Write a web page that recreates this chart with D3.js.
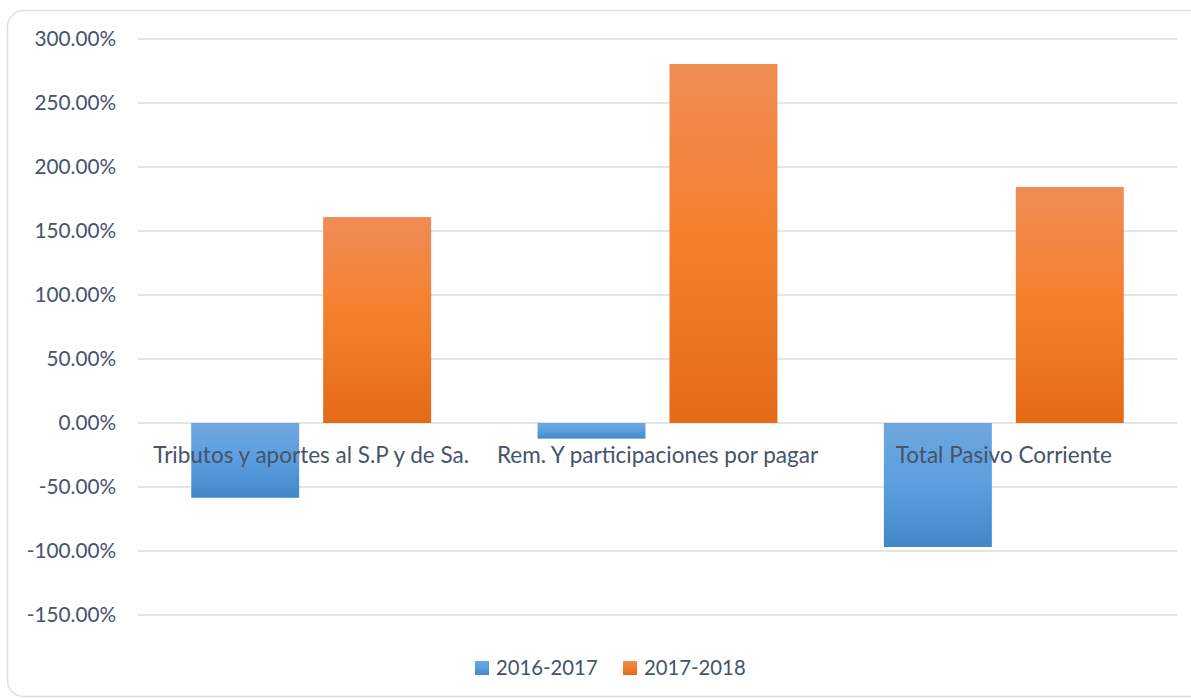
<!DOCTYPE html>
<html><head><meta charset="utf-8">
<script src="https://cdn.jsdelivr.net/npm/d3@7"></script>
<style>html,body{margin:0;padding:0;background:#fff;}svg{display:block;}</style>
</head><body>
<svg id="c" width="1191" height="699"></svg>
<script>
const categories = ["Tributos y aportes al S.P y de Sa.", "Rem. Y participaciones por pagar", "Total Pasivo Corriente"];
const seriesNames = ["2016-2017", "2017-2018"];
const values2016_2017 = [-0.584, -0.122, -0.969];
const values2017_2018 = [1.609, 2.805, 1.844];
const yTicks = [3, 2.5, 2, 1.5, 1, 0.5, 0, -0.5, -1, -1.5];

const W = 1191, H = 699;
const svg = d3.select("#c");
const font = "Lato, 'Open Sans', sans-serif";
const textColor = "#44546a";

const defs = svg.append("defs");
function grad(id, stops){
  const g = defs.append("linearGradient").attr("id", id).attr("x1",0).attr("y1",0).attr("x2",0).attr("y2",1);
  stops.forEach(s => g.append("stop").attr("offset", s[0]).attr("stop-color", s[1]));
}
grad("gBlue", [[0,"#6fa7dd"],[0.5,"#5b9ee0"],[1,"#4387c8"]]);
grad("gOrange", [[0,"#f08c56"],[0.5,"#f47f2a"],[1,"#e36a17"]]);

svg.append("rect").attr("x",7.5).attr("y",10.5).attr("width",1200).attr("height",686)
  .attr("rx",16).attr("fill","#fff").attr("stroke","#dcdfe5").attr("stroke-width",1.5);

const x0 = d3.scaleBand().domain(categories).range([138,1177]).paddingInner(0).paddingOuter(0);
const y = d3.scaleLinear().domain([-1.5,3]).range([615,39]);

// gridlines
svg.append("g").selectAll("line").data(yTicks).join("line")
  .attr("x1",138).attr("x2",1177).attr("y1",d=>y(d)).attr("y2",d=>y(d))
  .attr("stroke","#e2e5ea").attr("stroke-width",2);

// y labels
const fmt = d => (d*100).toFixed(2) + "%";
svg.append("g").selectAll("text").data(yTicks).join("text")
  .attr("x",116).attr("y",d=>y(d)).attr("dy","0.35em").attr("text-anchor","end")
  .attr("font-family",font).attr("font-size",20.7).attr("fill",textColor).text(fmt);

const bw = x0.bandwidth();
const barW = bw*108/346.5;
const gap = bw*24/346.5;
const x1 = d3.scaleOrdinal().domain(seriesNames).range([(bw-2*barW-gap)/2, (bw+gap)/2]);
const allSeries = [values2016_2017, values2017_2018];
const fills = ["url(#gBlue)","url(#gOrange)"];

seriesNames.forEach((s,i) => {
  svg.append("g").selectAll("rect").data(categories).join("rect")
    .attr("x", c => x0(c) + x1(s))
    .attr("width", barW)
    .attr("y", (c,j) => y(Math.max(0, allSeries[i][j])))
    .attr("height", (c,j) => Math.abs(y(allSeries[i][j]) - y(0)))
    .attr("fill", fills[i]);
});

// category labels
svg.append("g").selectAll("text").data(categories).join("text")
  .attr("x", c => x0(c) + bw/2).attr("y", 455).attr("dy","0.35em").attr("text-anchor","middle")
  .attr("font-family",font).attr("font-size",22.5).attr("fill",textColor).text(c=>c);

// legend
const legX = [475, 623];
const lg = svg.append("g");
seriesNames.forEach((s,i) => {
  lg.append("rect").attr("x",legX[i]).attr("y",661).attr("width",14).attr("height",14).attr("fill",fills[i]);
  lg.append("text").attr("x",legX[i]+21).attr("y",668).attr("dy","0.35em")
    .attr("font-family",font).attr("font-size",20.3).attr("fill",textColor).text(s);
});
</script>
</body></html>
